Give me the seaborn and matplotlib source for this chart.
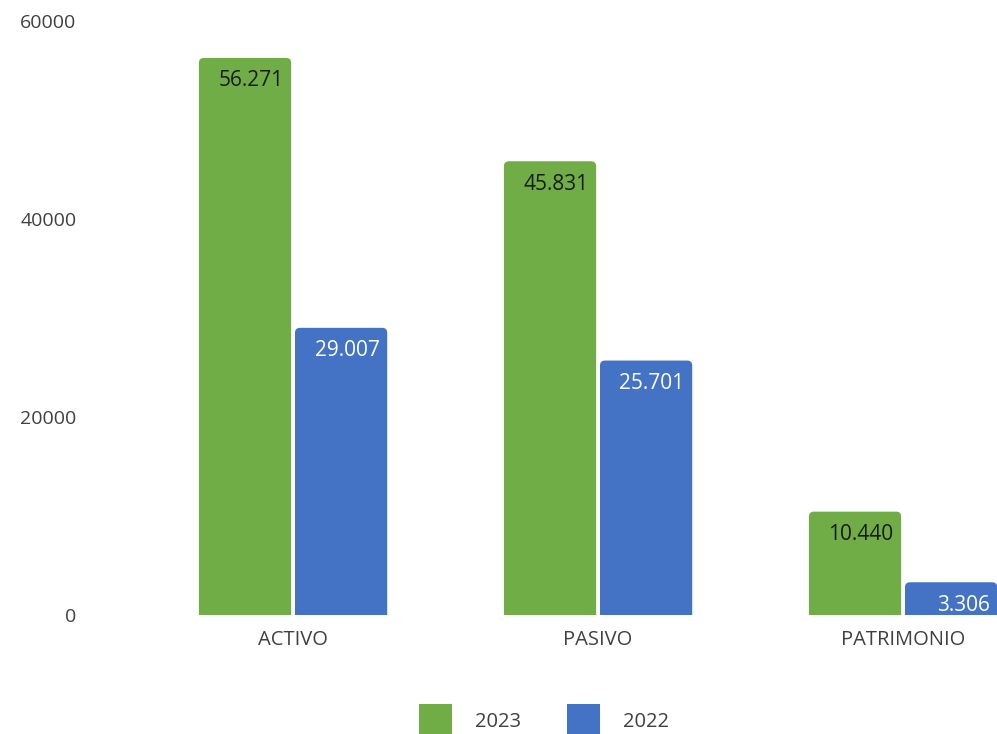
import pandas as pd
import matplotlib.pyplot as plt
import seaborn as sns
from matplotlib.patches import FancyBboxPatch

# datos
categorias = ['ACTIVO', 'PASIVO', 'PATRIMONIO']
anios = ['2023', '2022']
valores_2023 = [56271, 45831, 10440]
valores_2022 = [29007, 25701, 3306]
colores = {'2023': '#70AD47', '2022': '#4472C4'}
color_etiqueta = {'2023': '#1a1a1a', '2022': 'white'}

df = pd.DataFrame({
    'categoria': categorias * 2,
    'anio': ['2023'] * 3 + ['2022'] * 3,
    'valor': valores_2023 + valores_2022,
})

sns.set_style('white')
plt.rcParams['font.family'] = ['Open Sans', 'DejaVu Sans']

fig = plt.figure(figsize=(9.97, 7.34), dpi=100)
ax = fig.add_axes([100 / 997, 1 - 615 / 734, 1 - 100 / 997, (615 - 21) / 734])

sns.barplot(data=df, x='categoria', y='valor', hue='anio', hue_order=anios,
            palette=colores, width=0.63, gap=0.04, ax=ax, legend=False,
            saturation=1)

ax.set_xlim(-0.633, 2.308)
ax.set_ylim(0, 60000)
ax.set_yticks([0, 20000, 40000, 60000])
ax.set_xlabel('')
ax.set_ylabel('')
for s in ax.spines.values():
    s.set_visible(False)
ax.tick_params(axis='y', length=0, pad=17, labelsize=14, labelcolor='#404040')
ax.tick_params(axis='x', length=0, pad=11, labelsize=14.5, labelcolor='#404040')

# esquinas redondeadas arriba
px_x = 305.0
px_y = 594 / 60000
r = 5
rx = r / px_x
ry = r / px_y
barras = list(ax.patches)
for i, p in enumerate(barras):
    anio = anios[i // 3]
    x0, w, h = p.get_x(), p.get_width(), p.get_height()
    p.set_visible(False)
    fb = FancyBboxPatch((x0, -3 * ry), w, h + 3 * ry,
                        boxstyle=f'round,pad=0,rounding_size={rx}',
                        mutation_aspect=ry / rx,
                        facecolor=colores[anio], edgecolor='none', zorder=2)
    ax.add_patch(fb)
    texto = f'{h:,.0f}'.replace(',', '.')
    ax.annotate(texto, (x0 + w, h), xytext=(-5.5, -16.5), textcoords='offset points',
                ha='right', va='center', fontsize=15, color=color_etiqueta[anio],
                zorder=3)

handles = [FancyBboxPatch((0, 0), 1, 1, boxstyle='round,pad=0,rounding_size=0.1',
                          facecolor=colores[a], edgecolor='none') for a in anios]
fig.legend(handles, anios, loc='center', bbox_to_anchor=(0.5456, 0.018),
           ncol=2, frameon=False, fontsize=14.5, handlelength=1.64,
           handleheight=2.15, handletextpad=1.14, columnspacing=2.24,
           labelcolor='#404040')

fig.savefig('out.png', dpi=100)
